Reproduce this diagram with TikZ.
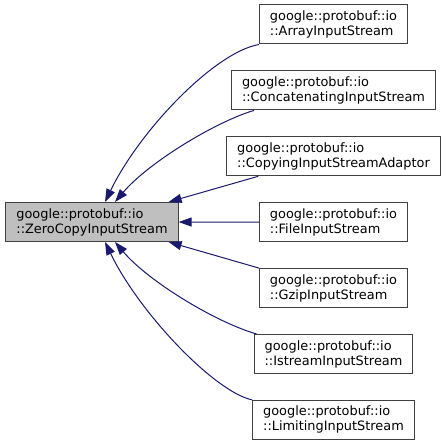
\documentclass[tikz,border=0pt]{standalone}
\usepackage{fontspec}
\setmainfont{DejaVu Sans}
\usetikzlibrary{arrows.meta,positioning}
\definecolor{edgeblue}{HTML}{191970}
\definecolor{boxline}{HTML}{404040}
\definecolor{basefill}{HTML}{BFBFBF}
\tikzset{
  cls/.style={draw=boxline, line width=1pt, fill=white, align=left, inner xsep=10.5pt,
    inner ysep=0pt, minimum height=39pt, font=\fontsize{12.9}{15}\selectfont},
  edge/.style={draw=edgeblue, line width=1pt,
    -{Triangle[length=13pt,width=9pt]}}
}
\begin{document}
\begin{tikzpicture}[x=1pt, y=-1pt]
    \useasboundingbox (0,0) rectangle (447,444);
    \node [cls, fill=basefill] (base) at (92,222) {google::protobuf::io\\::ZeroCopyInputStream};

    % derived classes
    \foreach \y/\name/\label in {24.5/array/ArrayInputStream, 90.4/concat/ConcatenatingInputStream,
        156.3/copying/CopyingInputStreamAdaptor, 222.2/file/FileInputStream, 288.1/gzip/GzipInputStream,
        354/istream/IstreamInputStream, 419.9/limiting/LimitingInputStream} {
        \node [cls] (\name) at (333.5,\y) {google::protobuf::io\\::\label};
    }

    % inheritance edges
    \draw [edge] (array.south west) .. controls (215,52) and (140,130) .. ([xshift=13pt]base.north);
    \draw [edge] ([xshift=23pt]concat.south west) .. controls (215,122) and (148,163) .. ([xshift=23pt]base.north);
    \draw [edge] ([xshift=32pt]copying.south west) -- ([xshift=-10pt]base.north east);
    \draw [edge] (file.west) -- (base.east);
    \draw [edge] (gzip.north west) -- ([xshift=-10pt]base.south east);
    \draw [edge] ([xshift=3pt]istream.north west) .. controls (215,322) and (148,281) .. ([xshift=23pt]base.south);
    \draw [edge] (limiting.north west) .. controls (215,392) and (140,314) .. ([xshift=13pt]base.south);
\end{tikzpicture}
\end{document}
